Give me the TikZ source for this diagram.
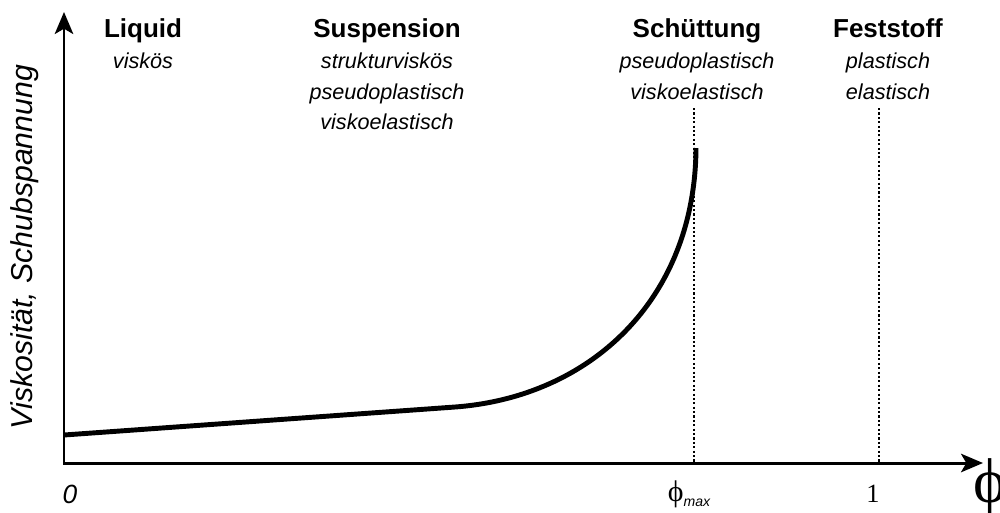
\documentclass[tikz,border=0pt]{standalone}
\usepackage{fontspec}
\setmainfont{Liberation Sans}
\newfontfamily\phifont{Liberation Serif}
\usetikzlibrary{arrows.meta,positioning}

\begin{document}
\begin{tikzpicture}[
    x=0.02cm, y=-0.02cm,
    axis/.style={line width=1.7pt, line join=miter,
        {Stealth[length=12.5pt, width=10.5pt, inset=3pt]}-{Stealth[length=12.5pt, width=10.5pt, inset=3pt]}},
    curve/.style={line width=2.8pt},
    limit/.style={line width=1.2pt, dash pattern=on 1.2pt off 1.3pt},
    phase/.style={font=\fontsize{14.8pt}{17pt}\selectfont\bfseries, inner sep=0pt},
    props/.style={font=\fontsize{12.3pt}{17.6pt}\selectfont\itshape, align=center, inner sep=0pt}
]
    \useasboundingbox (0,0) rectangle (1000,512);

    % axes
    \coordinate (ytop) at (64,12);
    \coordinate (O) at (64,463);
    \coordinate (xend) at (983,463);
    \draw[axis] (ytop) -- (O) -- (xend);

    % limits phi_max and 1
    \coordinate (phimaxtop) at (694,108);
    \coordinate (phimax) at (694,463);
    \coordinate (onetop) at (879,108);
    \coordinate (one) at (879,463);
    \draw[limit] (phimaxtop) -- (phimax);
    \draw[limit] (onetop) -- (one);

    % viscosity curve
    \coordinate (start) at (64,435);
    \coordinate (knee) at (455,407);
    \coordinate (peak) at (696,148);
    \draw[curve] (start) -- (knee) .. controls (590,397) and (695,300) .. (peak);

    % phases
    \node[phase, anchor=base] (liquid) at (143,37) {Liquid};
    \node[phase, anchor=base] (suspension) at (387,37) {Suspension};
    \node[phase, anchor=base] (schuettung) at (697,37) {Schüttung};
    \node[phase, anchor=base] (feststoff) at (888,37) {Feststoff};

    \node[props, below=8.6pt of liquid.base] (liquidprops) {viskös};
    \node[props, below=8.6pt of suspension.base] (suspprops)
        {strukturviskös\\pseudoplastisch\\viskoelastisch};
    \node[props, below=8.6pt of schuettung.base] (schuettprops)
        {pseudoplastisch\\viskoelastisch};
    \node[props, below=8.6pt of feststoff.base] (festprops)
        {plastisch\\elastisch};

    % axis labels
    \node[rotate=90, font=\fontsize{17.2pt}{18pt}\selectfont\itshape, inner sep=0pt] (ylabel) at (25,247)
        {Viskosität, Schubspannung};
    \node[font=\fontsize{15pt}{16pt}\selectfont\itshape, inner sep=0pt] (zero) at (70,494) {0};
    \node[inner sep=0pt] (phimaxlabel) at (689,494)
        {{\phifont\fontsize{17pt}{18pt}\selectfont ϕ}{\fontsize{8pt}{9pt}\selectfont\itshape\raisebox{-3pt}{max}}};
    \node[font=\phifont\fontsize{15pt}{16pt}\selectfont, inner sep=0pt] (onelabel) at (873,494) {1};
    \node[font=\phifont\fontsize{36pt}{38pt}\selectfont, inner sep=0pt] (philabel) at (990,487) {ϕ};
\end{tikzpicture}
\end{document}
